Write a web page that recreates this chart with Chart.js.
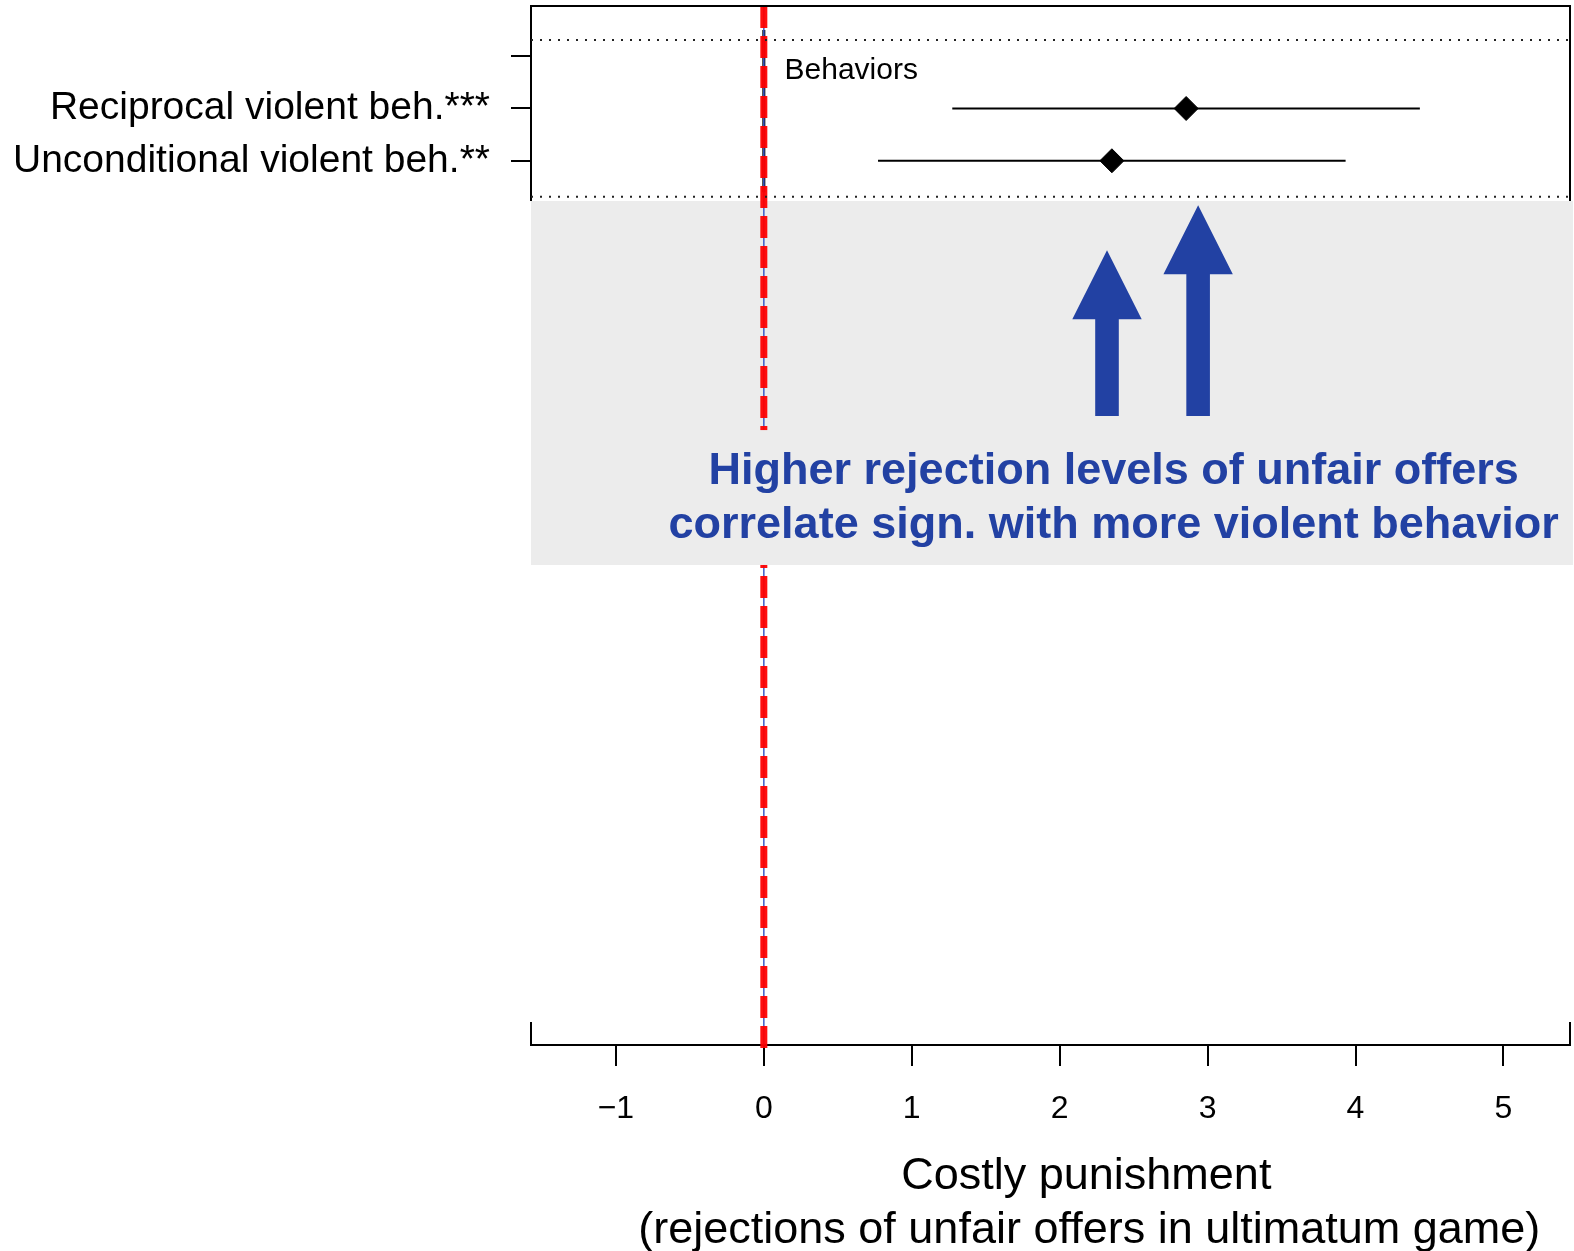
<!DOCTYPE html>
<html lang="en">
<head>
<meta charset="utf-8">
<script src="https://cdn.jsdelivr.net/npm/chart.js@4/dist/chart.umd.min.js"></script>
<style>
  html, body { margin: 0; padding: 0; background: #fff; }
  canvas { display: block; }
</style>
</head>
<body>
<canvas id="myChart" width="1574" height="1251"></canvas>
<script>
// --- data ---
const rowLabels = ['Reciprocal violent beh.***', 'Unconditional violent beh.**'];
const rowPos = [2, 3];
const estimates = [2.855, 2.353];
const lowerCI = [1.274, 0.772];
const upperCI = [4.435, 3.933];
const groupLabel = 'Behaviors';
const groupPos = 1;
const xTicks = [-1, 0, 1, 2, 3, 4, 5];
const yTicks = [1, 2, 3];
const yTickLabels = ['', ...rowLabels];

// --- layout (data units) ---
const X_MIN = -1.574, X_MAX = 5.45;
const Y_MIN = 0.04, Y_MAX = 19.91;
const DOT_LINES = [0.69, 3.69];
const BOX_BOTTOM = 3.77;
const SHADE_BOTTOM = 10.73;
const TEXTBOX_TOP = 8.15;
const ARROWS = [
  { x: 2.32, tip: 4.71, base: 6.03, bottom: 7.88 },
  { x: 2.936, tip: 3.85, base: 5.17, bottom: 7.88 }
];
const NOTE_X = 2.365;
const NOTE_LINES = [
  { text: 'Higher rejection levels of unfair offers', y: 8.95 },
  { text: 'correlate sign. with more violent behavior', y: 9.97 }
];
const TITLE_LINES = [
  { text: 'Costly punishment', x: 2.18, dy: 132 },
  { text: '(rejections of unfair offers in ultimatum game)', x: 2.2, dy: 186 }
];

const BLUE = '#2241a3';
const GRAY = '#ececec';

Chart.defaults.font.family = '"Liberation Sans", Arial, Helvetica, sans-serif';
Chart.defaults.color = '#000';

const overlay = {
  id: 'overlay',
  beforeDatasetsDraw(chart) {
    const { ctx, chartArea: a, scales: { y } } = chart;
    const t = y.getPixelForValue(BOX_BOTTOM);
    const b = y.getPixelForValue(SHADE_BOTTOM);
    ctx.save();
    ctx.fillStyle = GRAY;
    ctx.fillRect(a.left, t, chart.width - 1 - a.left, b - t);
    ctx.restore();
  },
  afterDatasetsDraw(chart) {
    const { ctx, chartArea: a, scales: { x, y } } = chart;
    ctx.save();
    // text box covering the reference line
    const tt = y.getPixelForValue(TEXTBOX_TOP);
    const tb = y.getPixelForValue(SHADE_BOTTOM);
    ctx.fillStyle = GRAY;
    ctx.fillRect(a.left, tt, chart.width - 1 - a.left, tb - tt);

    // arrows
    ctx.fillStyle = BLUE;
    ARROWS.forEach(ar => {
      const cx = x.getPixelForValue(ar.x);
      const tip = y.getPixelForValue(ar.tip);
      const base = y.getPixelForValue(ar.base);
      const bot = y.getPixelForValue(ar.bottom);
      const hw = 34.7, sw = 11.8;
      ctx.beginPath();
      ctx.moveTo(cx, tip);
      ctx.lineTo(cx + hw, base);
      ctx.lineTo(cx + sw, base);
      ctx.lineTo(cx + sw, bot);
      ctx.lineTo(cx - sw, bot);
      ctx.lineTo(cx - sw, base);
      ctx.lineTo(cx - hw, base);
      ctx.closePath();
      ctx.fill();
    });

    // note text
    ctx.font = 'bold 45px "Liberation Sans", Arial, sans-serif';
    ctx.textAlign = 'center';
    ctx.textBaseline = 'middle';
    NOTE_LINES.forEach(l => ctx.fillText(l.text, x.getPixelForValue(NOTE_X), y.getPixelForValue(l.y)));

    // box around the group
    const bb = y.getPixelForValue(BOX_BOTTOM);
    ctx.strokeStyle = '#000';
    ctx.lineWidth = 2;
    ctx.beginPath();
    ctx.moveTo(a.left, bb);
    ctx.lineTo(a.left, a.top);
    ctx.lineTo(a.right, a.top);
    ctx.lineTo(a.right, bb);
    ctx.stroke();

    // dotted separators
    ctx.setLineDash([2, 7]);
    ctx.strokeStyle = '#222';
    DOT_LINES.forEach(v => {
      const py = y.getPixelForValue(v);
      ctx.beginPath();
      ctx.moveTo(a.left, py);
      ctx.lineTo(a.right, py);
      ctx.stroke();
    });
    ctx.setLineDash([]);

    // end ticks of the x axis
    ctx.strokeStyle = '#000';
    [a.left, a.right].forEach(px => {
      ctx.beginPath();
      ctx.moveTo(px, a.bottom - 23);
      ctx.lineTo(px, a.bottom);
      ctx.stroke();
    });

    // group label
    ctx.fillStyle = '#000';
    ctx.font = '30px "Liberation Sans", Arial, sans-serif';
    ctx.textAlign = 'left';
    ctx.fillText(groupLabel, x.getPixelForValue(0.14), y.getPixelForValue(groupPos + 0.27));

    // axis title
    ctx.font = '45px "Liberation Sans", Arial, sans-serif';
    ctx.textAlign = 'center';
    TITLE_LINES.forEach(l => ctx.fillText(l.text, x.getPixelForValue(l.x), a.bottom + l.dy));
    ctx.restore();
  }
};

const datasets = [];
// forest-plot zero line inside the group box
datasets.push({
  data: [{ x: 0, y: 0.5 }, { x: 0, y: 3.6 }],
  showLine: true, pointRadius: 0, borderColor: '#000', borderWidth: 3, order: 6
});
// thin blue reference line
datasets.push({
  data: [{ x: 0, y: Y_MIN }, { x: 0, y: Y_MAX }],
  showLine: true, pointRadius: 0, borderColor: '#3a5bc8', borderWidth: 1.5, order: 5
});
// red dashed reference line
datasets.push({
  data: [{ x: 0, y: Y_MIN }, { x: 0, y: 20.1 }],
  showLine: true, pointRadius: 0, borderColor: 'rgba(255,0,0,0.94)', borderWidth: 7,
  borderDash: [22, 8], borderCapStyle: 'butt', clip: false, order: 4
});
// confidence intervals
rowPos.forEach((r, i) => {
  datasets.push({
    data: [{ x: lowerCI[i], y: r }, { x: upperCI[i], y: r }],
    showLine: true, pointRadius: 0, borderColor: '#000', borderWidth: 2, order: 2
  });
});
// point estimates
datasets.push({
  data: rowPos.map((r, i) => ({ x: estimates[i], y: r })),
  pointStyle: 'rectRot', pointRadius: 12, backgroundColor: '#000', borderColor: '#000',
  borderWidth: 1, order: 1
});

new Chart(document.getElementById('myChart').getContext('2d'), {
  type: 'scatter',
  data: { datasets },
  options: {
    responsive: false,
    animation: false,
    devicePixelRatio: 1,
    events: [],
    layout: { autoPadding: false, padding: { top: 6, right: 4, left: 0, bottom: 0 } },
    plugins: { legend: { display: false }, tooltip: { enabled: false } },
    scales: {
      x: {
        type: 'linear', min: X_MIN, max: X_MAX,
        afterBuildTicks: s => { s.ticks = xTicks.map(v => ({ value: v })); },
        afterFit: s => { s.height = 206; s.paddingLeft = 0; s.paddingRight = 0; },
        ticks: {
          callback: v => (v < 0 ? '\u2212' + Math.abs(v) : String(v)),
          font: { size: 32 }, color: '#000', padding: 24,
          autoSkip: false, maxRotation: 0
        },
        grid: { drawOnChartArea: false, drawTicks: true, tickLength: 21, color: '#000', lineWidth: 2 },
        border: { display: true, color: '#000', width: 2 }
      },
      y: {
        type: 'linear', reverse: true, min: Y_MIN, max: Y_MAX,
        afterBuildTicks: s => { s.ticks = yTicks.map(v => ({ value: v })); },
        afterFit: s => { s.width = 531; s.paddingTop = 0; s.paddingBottom = 0; },
        ticks: {
          callback: (v, i) => yTickLabels[i],
          font: { size: 39 }, color: '#000', padding: 21, autoSkip: false
        },
        grid: { drawOnChartArea: false, drawTicks: true, tickLength: 20, color: '#000', lineWidth: 2 },
        border: { display: false }
      }
    }
  },
  plugins: [overlay]
});
</script>
</body>
</html>
